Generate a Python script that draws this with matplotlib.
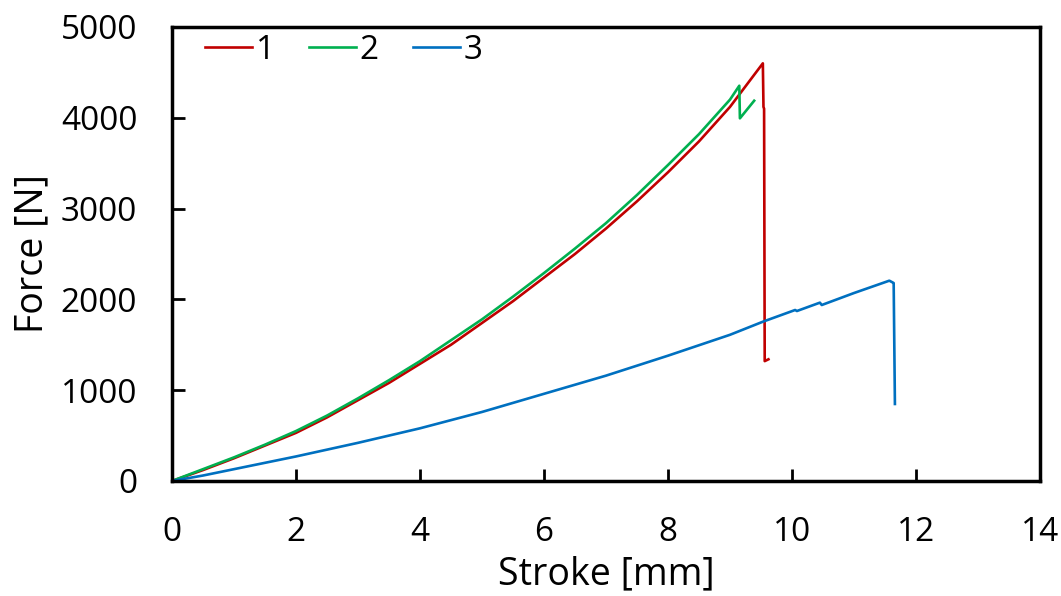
import matplotlib
matplotlib.use("Agg")
import matplotlib.pyplot as plt

plt.rcParams['font.family'] = ['Open Sans', 'DejaVu Sans']

# Series 1 (red)
x1 = [0, 0.5, 1, 1.5, 2, 2.5, 3, 3.5, 4, 4.5, 5, 5.5, 6, 6.5, 7, 7.5, 8, 8.5, 9, 9.53, 9.54, 9.55, 9.56, 9.62]
y1 = [0, 120, 250, 390, 530, 700, 890, 1080, 1290, 1500, 1740, 1980, 2240, 2500, 2780, 3080, 3400, 3740, 4120, 4600, 4120, 4100, 1320, 1340]

# Series 2 (green)
x2 = [0, 0.5, 1, 1.5, 2, 2.5, 3, 3.5, 4, 4.5, 5, 5.5, 6, 6.5, 7, 7.5, 8, 8.5, 9, 9.15, 9.16, 9.39]
y2 = [0, 130, 260, 400, 550, 720, 910, 1110, 1320, 1550, 1780, 2030, 2290, 2560, 2840, 3150, 3480, 3820, 4200, 4353, 3994, 4188]

# Series 3 (blue)
x3 = [0, 0.5, 1, 1.5, 2, 2.5, 3, 3.5, 4, 4.5, 5, 5.5, 6, 6.5, 7, 7.5, 8, 8.5, 9, 9.53, 10.05, 10.08, 10.45, 10.48, 11.0, 11.57, 11.63, 11.64, 11.66]
y3 = [0, 60, 130, 200, 270, 345, 420, 500, 580, 670, 760, 860, 960, 1060, 1160, 1270, 1380, 1495, 1610, 1754, 1883, 1872, 1964, 1938, 2070, 2206, 2184, 2180, 848]

series = [("1", x1, y1, "#C00000"), ("2", x2, y2, "#00B050"), ("3", x3, y3, "#0070C0")]

xticks = [0, 2, 4, 6, 8, 10, 12, 14]
yticks = [0, 1000, 2000, 3000, 4000, 5000]

fig = plt.figure(figsize=(10.61, 5.96), dpi=100)
ax = fig.add_axes([0.1621, 0.193, 0.8181, 0.7617])

for name, xs, ys, c in series:
    ax.plot(xs, ys, color=c, lw=1.9, label=name)

ax.set_xlim(0, 14)
ax.set_ylim(0, 5000)
ax.set_xticks(xticks)
ax.set_yticks(yticks)
ax.tick_params(direction='in', length=9, width=2, labelsize=24, pad=25,
               top=False, right=False)
for s in ax.spines.values():
    s.set_linewidth(2.5)
    s.set_color('black')

ax.set_xlabel("Stroke [mm]", fontsize=27, labelpad=5)
ax.set_ylabel("Force [N]", fontsize=27, labelpad=7)

ax.legend(loc='center left', ncol=3, frameon=False, fontsize=24,
          handlelength=1.4, handletextpad=0.12, columnspacing=1.03,
          bbox_to_anchor=(0.038, 0.949), borderaxespad=0, borderpad=0)

fig.savefig("out.png", dpi=100)
